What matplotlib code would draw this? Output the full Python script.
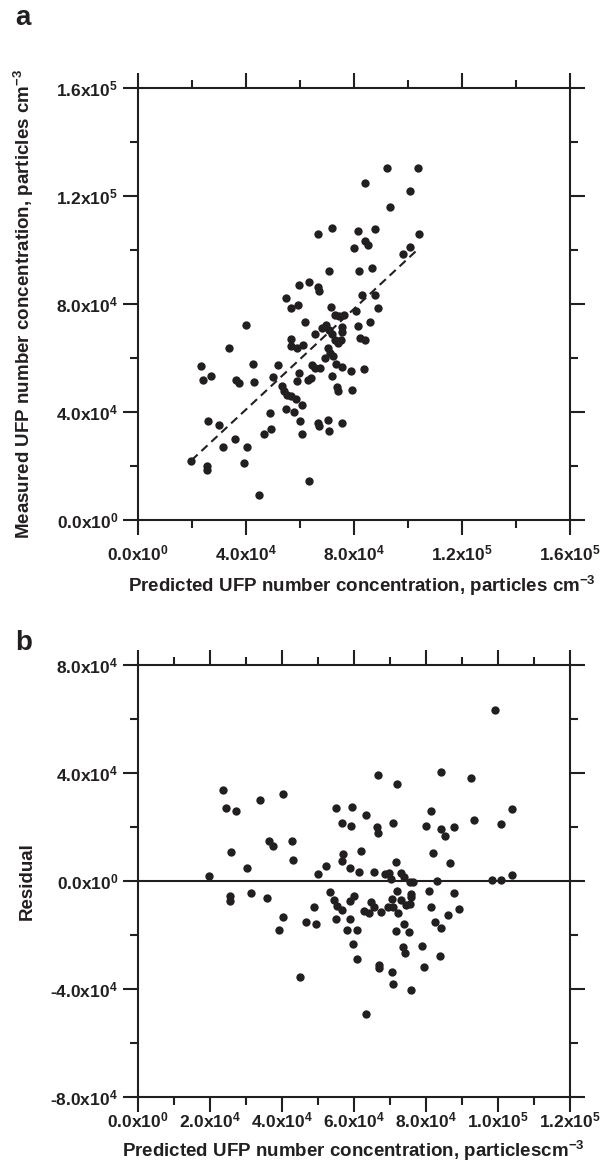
import numpy as np
import matplotlib.pyplot as plt
from matplotlib.ticker import MultipleLocator, FuncFormatter

# panel a: measured vs predicted UFP number concentration
pred_a = [92400, 103900, 84200, 100900, 93400, 66800, 72200, 81500, 87900, 104100,
          84400, 85300, 80100, 100900, 98400, 70900, 82200, 87000, 59700, 63700,
          66700, 67400, 54900, 56800, 59300, 83300, 87900, 88900, 71700, 73200,
          74700, 76400, 81000, 40100, 62100, 69700, 68500, 71000, 75800, 75800,
          81500, 86000, 65600, 72000, 73000, 74400, 75400, 82400, 84400, 57000,
          56700, 59100, 61300, 33900, 70700, 71200, 72400, 69600, 23700, 42800,
          52200, 64600, 65800, 67600, 73700, 75700, 79000, 83900, 24400, 27100,
          36400, 37600, 43200, 50100, 59900, 58900, 63000, 64300, 71900, 73900,
          74300, 79600, 53400, 54200, 55300, 57000, 58700, 61000, 55000, 58100,
          49100, 60000, 67000, 67100, 70600, 71100, 75900, 60900, 49600, 46800,
          26100, 30200, 36100, 31500, 40400, 19900, 25600, 25800, 39300, 63400,
          44900]
meas_a = [130500, 130400, 124600, 121700, 115700, 105800, 108100, 107100, 107600, 106000,
          103400, 101700, 100600, 101100, 98600, 92100, 92200, 93300, 87100, 87900,
          86100, 84700, 82000, 78300, 79400, 83200, 83400, 78500, 78900, 76000,
          75400, 75900, 77400, 72200, 73200, 72300, 71000, 70400, 71200, 69700,
          71700, 73300, 68700, 68900, 66700, 65400, 66400, 67400, 66700, 66900,
          64300, 63600, 64600, 63700, 63600, 61700, 60500, 59700, 57100, 57500,
          57400, 57400, 56300, 56300, 57800, 56500, 55000, 55900, 51600, 53200,
          51600, 50700, 50900, 52800, 54200, 51500, 51900, 52400, 53200, 49000,
          47600, 47900, 49400, 47600, 46100, 45900, 44700, 42600, 40900, 40000,
          39500, 36500, 35900, 34700, 37000, 33000, 35600, 31700, 33400, 31700,
          36700, 35000, 29700, 27000, 26900, 21600, 19900, 18500, 21000, 14100,
          9100]

# regression line
fit_slope = 0.933
fit_intercept = 3300
fit_x = [20000, 104000]

# panel b: residuals vs predicted
pred_b = [99200, 66700, 72200, 84300, 92500, 23800, 24500, 27300, 34000, 40300,
          55100, 59500, 63600, 81600, 104000, 56900, 59300, 66500, 66900, 70900,
          80100, 84400, 85300, 88000, 93500, 100900, 36500, 37700, 42900, 26100,
          57100, 62000, 82200, 56900, 43300, 30300, 71800, 86900, 52300, 50200,
          59100, 61500, 65600, 68700, 69800, 70500, 73200, 74000, 75600, 76600,
          83300, 19800, 98400, 100900, 104100, 25600, 25800, 31500, 36100, 53600,
          54500, 55400, 56900, 58900, 60000, 49100, 64900, 65800, 62900, 64300,
          67700, 69600, 70800, 72100, 70900, 73200, 72400, 74700, 75600, 76000,
          76000, 81100, 81600, 87900, 89200, 86200, 82500, 84400, 40500, 39400,
          46900, 49600, 55100, 59000, 58300, 61000, 71900, 74000, 75500, 59900,
          61000, 73800, 74400, 79100, 84100, 79700, 67000, 67100, 70600, 71100,
          76000, 45000, 63500]
resid_b = [63200, 39300, 36000, 40500, 38300, 33600, 27200, 26000, 29900, 32100,
           26900, 27500, 24400, 25900, 26700, 21500, 20200, 20000, 17900, 21400,
           20500, 19300, 16700, 19900, 22500, 21000, 14900, 13100, 14900, 10600,
           9900, 11200, 10200, 7400, 7700, 4900, 7200, 6700, 5400, 2700,
           4900, 3200, 3200, 2500, 3100, 700, 2800, 1600, -200, -500,
           0, 2000, 400, 200, 2200, -5600, -7300, -4400, -6300, -4100,
           -7000, -9300, -10700, -7400, -5700, -9600, -7700, -9500, -11100, -11700,
           -11400, -9800, -6800, -3800, -9500, -7000, -11700, -8900, -8500, -4700,
           -6000, -3600, -9800, -4300, -10500, -12600, -15200, -17500, -13500, -18300,
           -15100, -15800, -14200, -14100, -18100, -18300, -18500, -16000, -18800, -23300,
           -29000, -24600, -26500, -24000, -27900, -31700, -31000, -32300, -33600, -38000,
           -40400, -35700, -49300]

plt.rcParams['font.family'] = ['Liberation Sans', 'DejaVu Sans']
plt.rcParams['font.weight'] = 'bold'
plt.rcParams['axes.labelweight'] = 'bold'
plt.rcParams['mathtext.fontset'] = 'custom'
plt.rcParams['mathtext.rm'] = 'Liberation Sans:bold'
plt.rcParams['mathtext.it'] = 'Liberation Sans:bold'
plt.rcParams['mathtext.bf'] = 'Liberation Sans:bold'

ink = '#231f20'


def sci(v, pos):
    if v == 0:
        return '0.0x10$^{0}$'
    e = int(np.floor(np.log10(abs(v)) + 1e-9))
    return f'{v / 10**e:.1f}x10$^{{{e}}}$'


W, H = 608, 1172
fig = plt.figure(figsize=(W / 100, H / 100), dpi=100)


def px_axes(l, t, r, b):
    return fig.add_axes([l / W, 1 - b / H, (r - l) / W, (b - t) / H])


def style(ax, xpad):
    for s in ax.spines.values():
        s.set_linewidth(1.5)
        s.set_color(ink)
    ax.tick_params(which='both', direction='out', top=True, right=True,
                   width=1.5, color=ink, labelsize=12.5, labelcolor=ink)
    ax.tick_params(which='major', length=11)
    ax.tick_params(which='minor', length=6)
    ax.tick_params(axis='x', pad=xpad)
    ax.tick_params(axis='y', pad=3)
    ax.xaxis.set_major_formatter(FuncFormatter(sci))
    ax.yaxis.set_major_formatter(FuncFormatter(sci))


ax1 = px_axes(137.5, 88, 569.5, 519.5)
ax2 = px_axes(137.5, 665, 569.5, 1097)

# panel a
ax1.plot(pred_a, meas_a, 'o', ms=6, mew=0, color=ink)
fx = np.array(fit_x)
ax1.plot(fx, fit_slope * fx + fit_intercept, ls=(0, (4, 2.5)), lw=1.5, color=ink)
ax1.set_xlim(0, 1.6e5)
ax1.set_ylim(0, 1.6e5)
ax1.xaxis.set_major_locator(MultipleLocator(4e4))
ax1.xaxis.set_minor_locator(MultipleLocator(2e4))
ax1.yaxis.set_major_locator(MultipleLocator(4e4))
ax1.yaxis.set_minor_locator(MultipleLocator(2e4))
style(ax1, 6)
ax1.set_xlabel('Predicted UFP number concentration, particles cm$^{-3}$',
               fontsize=13.5, color=ink)
ax1.set_ylabel('Measured UFP number concentration, particles cm$^{-3}$',
               fontsize=13.5, color=ink)
ax1.xaxis.set_label_coords(0.52, -0.126)
ax1.yaxis.set_label_coords(-0.235, 0.5)

# panel b
ax2.plot(pred_b, resid_b, 'o', ms=6, mew=0, color=ink)
ax2.axhline(0, color=ink, lw=1.5)
ax2.set_xlim(0, 1.2e5)
ax2.set_ylim(-8e4, 8e4)
ax2.xaxis.set_major_locator(MultipleLocator(2e4))
ax2.xaxis.set_minor_locator(MultipleLocator(1e4))
ax2.yaxis.set_major_locator(MultipleLocator(4e4))
ax2.yaxis.set_minor_locator(MultipleLocator(2e4))
style(ax2, -1)
ax2.set_xlabel('Predicted UFP number concentration, particlescm$^{-3}$',
               fontsize=13.5, color=ink)
ax2.set_ylabel('Residual', fontsize=13.5, color=ink)
ax2.xaxis.set_label_coords(0.5, -0.097)
ax2.yaxis.set_label_coords(-0.235, 0.5)

fig.text(15 / W, 1 - 25 / H, 'a', fontsize=20, fontweight='bold', va='baseline', color=ink)
fig.text(15 / W, 1 - 650 / H, 'b', fontsize=20, fontweight='bold', va='baseline', color=ink)

fig.savefig('out.png', dpi=100)
